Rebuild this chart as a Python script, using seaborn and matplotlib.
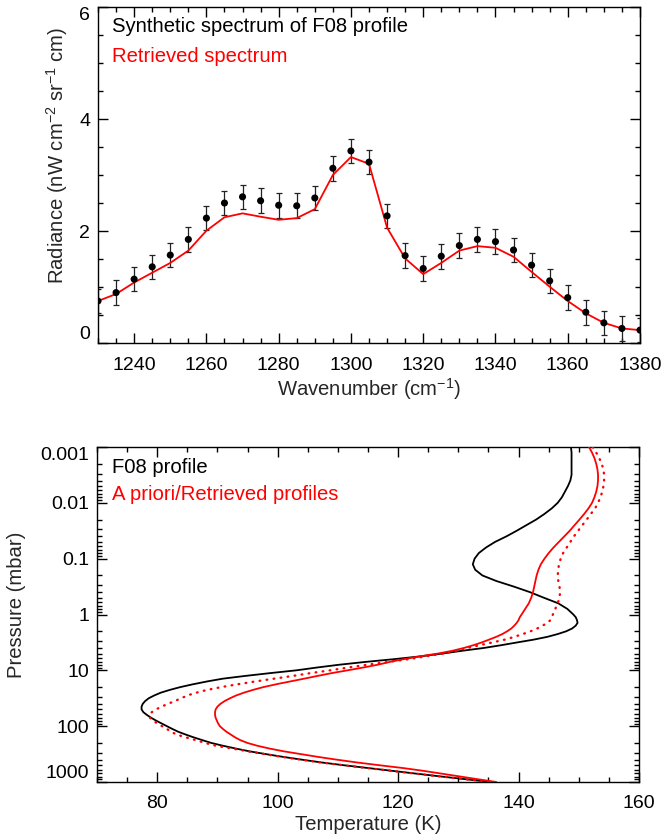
import matplotlib
matplotlib.use("Agg")
import matplotlib.pyplot as plt
from matplotlib.ticker import MultipleLocator, LogLocator, NullFormatter, FuncFormatter, FixedLocator
import seaborn as sns

# ---- Spectrum (upper panel) ----
wavenumber = [1230, 1235, 1240, 1245, 1250, 1255, 1260, 1265, 1270, 1275, 1280,
              1285, 1290, 1295, 1300, 1305, 1310, 1315, 1320, 1325, 1330, 1335,
              1340, 1345, 1350, 1355, 1360, 1365, 1370, 1375, 1380]
radiance_obs = [0.75, 0.90, 1.14, 1.36, 1.57, 1.85, 2.23, 2.50, 2.61, 2.54, 2.46,
                2.45, 2.59, 3.12, 3.43, 3.23, 2.27, 1.56, 1.33, 1.55, 1.74, 1.85,
                1.81, 1.66, 1.39, 1.11, 0.81, 0.55, 0.36, 0.26, 0.23]
radiance_err = [0.22, 0.22, 0.22, 0.22, 0.22, 0.22, 0.22, 0.22, 0.22, 0.22, 0.22,
                0.22, 0.22, 0.22, 0.22, 0.22, 0.22, 0.22, 0.22, 0.22, 0.22, 0.22,
                0.22, 0.22, 0.22, 0.22, 0.22, 0.22, 0.22, 0.22, 0.22]
radiance_fit = [0.75, 0.875, 1.08, 1.255, 1.43, 1.65, 2.005, 2.245, 2.315, 2.255, 2.20,
                2.23, 2.39, 3.00, 3.32, 3.20, 2.06, 1.51, 1.23, 1.43, 1.65, 1.73,
                1.70, 1.54, 1.27, 1.005, 0.75, 0.53, 0.36, 0.26, 0.23]

# ---- Temperature profiles (lower panel), on a common pressure grid (mbar) ----
pressure_mbar = [
    0.001, 0.00126, 0.00158, 0.002, 0.00251, 0.00316, 0.00398, 0.00501, 0.00631, 0.00794,
    0.01, 0.0126, 0.0158, 0.02, 0.0251, 0.0316, 0.0398, 0.0501, 0.0631, 0.0794,
    0.1, 0.126, 0.158, 0.2, 0.251, 0.316, 0.398, 0.501, 0.631, 0.794,
    1.0,
    1.12, 1.26, 1.41, 1.58, 1.78, 2.0, 2.24, 2.51, 2.82, 3.16,
    3.55, 3.98, 4.47, 5.01, 5.62, 6.31, 7.08, 7.94, 8.91, 10.0,
    11.2, 12.6, 14.1, 15.8, 17.8, 20.0, 22.4, 25.1, 28.2, 31.6,
    35.5, 39.8, 44.7, 50.1, 56.2, 63.1, 70.8, 79.4, 89.1, 100.0,
    112, 126, 141, 158, 178, 200, 224, 251, 282, 316,
    355, 398, 447, 501, 562, 631, 708, 794, 891, 1000,
]
temp_f08 = [
    148.7, 148.8, 148.8, 148.8, 148.8, 148.8, 148.6, 148.2, 147.7, 147.2,
    146.5, 145.5, 144.3, 142.9, 141.3, 139.7, 138.0, 136.1, 134.6, 133.4,
    132.7, 132.4, 132.8, 134.0, 136.3, 139.2, 141.9, 144.2, 146.6, 148.1,
    149.1,
    149.5, 149.7, 149.8, 149.5, 148.9, 147.9, 146.5, 144.8, 142.5, 139.8,
    137.1, 134.2, 130.6, 127.3, 123.7, 119.3, 114.5, 110.2, 106.5, 103.1,
    98.8, 94.6, 90.9, 88.3, 85.9, 83.8, 82.1, 80.6, 79.5, 78.6,
    78.0, 77.6, 77.4, 77.4, 77.7, 78.3, 79.0, 79.8, 80.7, 81.6,
    82.5, 83.5, 84.7, 86.0, 87.5, 89.0, 90.9, 93.0, 95.3, 98.0,
    100.9, 104.0, 107.3, 111.0, 115.0, 119.0, 123.0, 127.0, 131.2, 135.3,
]
temp_retrieved = [
    151.7, 152.2, 152.6, 152.9, 153.1, 153.2, 153.2, 153.1, 152.9, 152.6,
    152.2, 151.6, 150.9, 150.1, 149.3, 148.5, 147.6, 146.7, 145.8, 145.0,
    144.3, 143.7, 143.3, 143.0, 142.8, 142.6, 142.4, 142.1, 141.7, 141.1,
    140.5,
    140.2, 140.0, 139.7, 139.3, 138.8, 138.1, 137.3, 136.3, 135.1, 133.9,
    132.5, 130.9, 129.0, 126.6, 123.6, 120.9, 118.6, 116.6, 114.2, 111.6,
    109.0, 106.6, 104.4, 102.1, 99.7, 97.6, 95.9, 94.4, 93.1, 92.1,
    91.2, 90.5, 90.0, 89.7, 89.6, 89.6, 89.7, 89.9, 90.1, 90.4,
    90.9, 91.5, 92.2, 92.9, 93.8, 95.0, 96.6, 98.6, 101.0, 103.8,
    106.7, 109.8, 113.2, 116.9, 120.8, 124.2, 127.2, 130.2, 133.2, 136.3,
]
temp_apriori = [
    152.3, 152.9, 153.4, 153.8, 154.1, 154.2, 154.2, 154.1, 153.9, 153.6,
    153.2, 152.7, 152.0, 151.3, 150.6, 149.9, 149.2, 148.6, 148.0, 147.4,
    147.0, 146.7, 146.6, 146.5, 146.6, 146.8, 146.9, 146.8, 146.5, 146.1,
    145.7,
    145.5, 145.3, 144.8, 144.0, 143.1, 142.0, 140.7, 139.3, 137.7, 135.7,
    133.5, 131.5, 129.6, 127.5, 124.6, 121.7, 118.3, 114.9, 111.7, 108.7,
    105.5, 102.5, 99.4, 96.3, 93.3, 90.6, 88.3, 86.5, 85.0, 84.0,
    82.9, 81.8, 80.7, 79.8, 79.1, 78.7, 78.8, 79.3, 80.0, 80.8,
    81.6, 82.3, 83.2, 84.7, 86.4, 88.0, 89.7, 92.4, 95.0, 97.8,
    100.7, 103.9, 107.2, 110.9, 114.9, 118.9, 122.9, 127.0, 131.2, 135.5,
]

pressure_ticks = [0.001, 0.01, 0.1, 1, 10, 100, 1000]

sns.set_style("ticks")
plt.rcParams["font.family"] = ["Liberation Sans", "DejaVu Sans"]
plt.rcParams["mathtext.fontset"] = "custom"
plt.rcParams["mathtext.rm"] = "Liberation Sans"
plt.rcParams["mathtext.it"] = "Liberation Sans:italic"
plt.rcParams["mathtext.bf"] = "Liberation Sans:bold"
plt.rcParams["axes.linewidth"] = 1.0
plt.rcParams["axes.edgecolor"] = "black"

FS_TICK = 14
FS_TEXT = 14.6

fig = plt.figure(figsize=(6.64, 8.36), dpi=100)
ax1 = fig.add_axes([98 / 664, 1 - 343 / 836, 542 / 664, 336 / 836])
ax2 = fig.add_axes([97 / 664, 1 - 782 / 836, 542 / 664, 335 / 836])


def style_ticks(ax, xpad, ypad):
    ax.tick_params(which="both", direction="in", top=True, right=True,
                   width=1.0, colors="black", labelsize=FS_TICK)
    ax.tick_params(which="major", length=7)
    ax.tick_params(which="minor", length=3.8)
    ax.tick_params(axis="x", which="both", pad=xpad)
    ax.tick_params(axis="y", which="both", pad=ypad)
    for s in ax.spines.values():
        s.set_visible(True)
        s.set_color("black")
        s.set_linewidth(1.0)


# Upper panel: synthetic spectrum with error bars and retrieved fit
ax1.errorbar(wavenumber, radiance_obs, yerr=radiance_err, fmt="none",
             ecolor="#222222", elinewidth=0.9, capsize=2.4, capthick=0.9, zorder=2)
sns.lineplot(x=wavenumber, y=radiance_fit, color="red", linewidth=1.3,
             sort=False, estimator=None, ax=ax1, zorder=3)
sns.scatterplot(x=wavenumber, y=radiance_obs, color="black", s=26,
                edgecolor="none", ax=ax1, zorder=4)

ax1.set_xlim(1230, 1380)
ax1.set_ylim(0, 6)
ax1.xaxis.set_major_locator(FixedLocator([1240, 1260, 1280, 1300, 1320, 1340, 1360, 1380]))
ax1.xaxis.set_minor_locator(MultipleLocator(5))
ax1.set_yticks([0, 2, 4, 6])
ax1.yaxis.set_minor_locator(MultipleLocator(0.5))
style_ticks(ax1, xpad=10, ypad=5.5)
yt = ax1.yaxis.get_major_ticks()
yt[0].label1.set_va("bottom")
yt[-1].label1.set_va("top")

ax1.set_xlabel("Wavenumber (cm$^{-1}$)", fontsize=FS_TEXT, va="top")
ax1.xaxis.set_label_coords(0.5, -0.100)
ax1.set_ylabel("Radiance (nW cm$^{-2}$ sr$^{-1}$ cm)", fontsize=FS_TEXT, va="center")
ax1.yaxis.set_label_coords(-0.075, 0.56)

ax1.text(0.026, 0.926, "Synthetic spectrum of F08 profile", transform=ax1.transAxes,
         fontsize=FS_TEXT, color="black", va="baseline")
ax1.text(0.026, 0.837, "Retrieved spectrum", transform=ax1.transAxes,
         fontsize=FS_TEXT, color="red", va="baseline")

# Lower panel: temperature-pressure profiles
sns.lineplot(x=temp_f08, y=pressure_mbar, color="black", linewidth=1.3,
             sort=False, estimator=None, ax=ax2, zorder=2)
sns.lineplot(x=temp_apriori, y=pressure_mbar, color="red", linewidth=1.7,
             linestyle=(0, (0.3, 2.7)), dash_capstyle="round",
             sort=False, estimator=None, ax=ax2, zorder=3)
sns.lineplot(x=temp_retrieved, y=pressure_mbar, color="red", linewidth=1.3,
             sort=False, estimator=None, ax=ax2, zorder=4)

ax2.set_yscale("log")
ax2.set_xlim(70, 160)
ax2.set_ylim(1000, 0.001)
ax2.set_xticks([80, 100, 120, 140, 160])
ax2.xaxis.set_minor_locator(MultipleLocator(5))
ax2.yaxis.set_major_locator(FixedLocator(pressure_ticks))
ax2.yaxis.set_major_formatter(FuncFormatter(lambda v, pos: f"{v:g}"))
ax2.yaxis.set_minor_locator(LogLocator(base=10, subs=range(2, 10), numticks=20))
ax2.yaxis.set_minor_formatter(NullFormatter())
style_ticks(ax2, xpad=9, ypad=5.5)
pt = ax2.yaxis.get_major_ticks()
pt[0].label1.set_va("top")
pt[-1].label1.set_va("bottom")

ax2.set_xlabel("Temperature (K)", fontsize=FS_TEXT, va="top")
ax2.xaxis.set_label_coords(0.5, -0.098)
ax2.set_ylabel("Pressure (mbar)", fontsize=FS_TEXT, va="center")
ax2.yaxis.set_label_coords(-0.148, 0.528)

ax2.text(0.028, 0.9215, "F08 profile", transform=ax2.transAxes,
         fontsize=FS_TEXT, color="black", va="baseline")
ax2.text(0.028, 0.842, "A priori/Retrieved profiles", transform=ax2.transAxes,
         fontsize=FS_TEXT, color="red", va="baseline")

fig.savefig("out.png", dpi=100)
